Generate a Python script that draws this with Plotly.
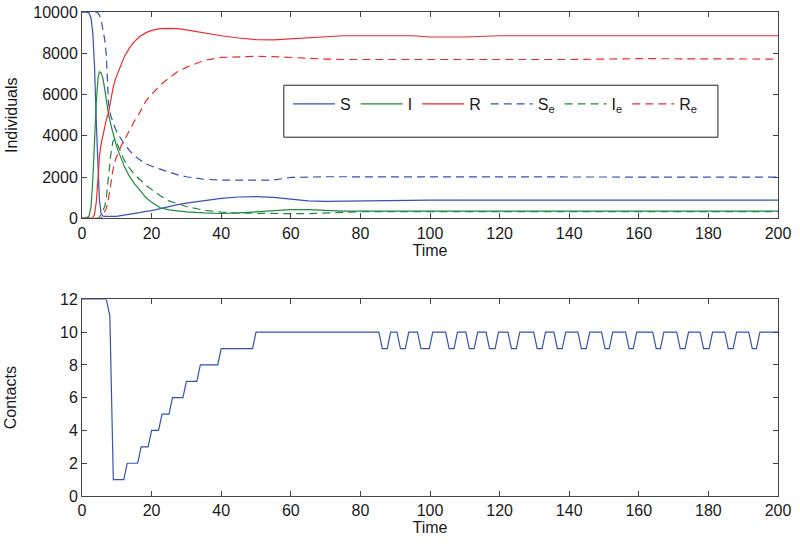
import plotly.graph_objects as go

# ---------------- data ----------------
time = [0, 1, 2, 2.6, 3.1, 3.6, 4.1, 4.6, 5.0, 5.5,
        6.0, 6.5, 7.0, 7.6, 8.2, 8.9, 9.6, 10.3, 11.2, 12.2,
        13.6, 15, 16.5, 18.4, 20, 22.5, 25, 27.5, 30, 35,
        40, 45, 50, 55, 60, 65, 70, 75, 80, 90,
        95, 100, 110, 120, 140, 160, 180, 200]

S = [10000, 10000, 9950, 9700, 8980, 7360, 4700, 2510, 890, 240,
     120, 105, 100, 100, 100, 100, 105, 110, 130, 160,
     200, 240, 280, 340, 380, 480, 580, 670, 740, 860,
     970, 1040, 1060, 1020, 930, 850, 830, 840, 880, 890,
     890, 890, 890, 890, 890, 890, 890, 890]

I = [0, 5, 110, 570, 1860, 3800, 5600, 6800, 7100, 7050,
     6800, 6300, 5700, 5050, 4600, 4100, 3700, 3320, 2900, 2500,
     2050, 1700, 1400, 1000, 780, 520, 420, 360, 320, 270,
     240, 270, 330, 400, 430, 430, 380, 360, 360, 360,
     360, 360, 360, 360, 360, 360, 360, 360]

R = [0, 0, 0, 5, 30, 200, 800, 1900, 3000, 3600,
     4050, 4500, 4800, 5100, 5700, 6300, 6750, 7040, 7450, 7850,
     8250, 8550, 8800, 9000, 9110, 9190, 9210, 9190, 9130, 8980,
     8850, 8740, 8660, 8650, 8700, 8780, 8830, 8850, 8850, 8850,
     8850, 8790, 8790, 8850, 8850, 8850, 8850, 8850]

S_e = [10000, 10000, 10000, 10000, 10000, 10000, 10000, 9950, 9850, 9600,
       9200, 8700, 7900, 5600, 5000, 4650, 4350, 4100, 3850, 3600,
       3300, 3050, 2850, 2650, 2530, 2380, 2230, 2110, 2020, 1900,
       1860, 1850, 1850, 1860, 1990, 2020, 2020, 2020, 2020, 2020,
       2020, 2020, 2020, 2020, 2020, 2020, 2020, 2000]

I_e = [0, 0, 0, 0, 0, 0, 0, 0, 50, 200,
       350, 570, 1000, 2000, 3000, 3750, 3850, 3550, 3150, 2800,
       2450, 2150, 1900, 1600, 1400, 1100, 850, 700, 580, 400,
       310, 260, 240, 235, 235, 235, 260, 320, 330, 330,
       330, 330, 330, 330, 330, 330, 330, 330]

R_e = [0, 0, 0, 0, 0, 0, 0, 0, 0, 0,
       160, 320, 500, 950, 1600, 2350, 2850, 3150, 3500, 3800,
       4250, 4700, 5100, 5700, 6000, 6470, 6800, 7120, 7320, 7650,
       7800, 7840, 7850, 7840, 7790, 7760, 7720, 7700, 7700, 7700,
       7700, 7700, 7700, 7700, 7700, 7740, 7740, 7720]

# contacts: ramp-up breakpoints, then periodic dips from 10 down to 9
contact_t = [0, 7, 8, 9, 12, 13, 16, 17, 19, 20, 22, 23, 25, 26, 29, 30, 33, 34, 39, 40, 49, 50]
contact_v = [12, 12, 11, 1, 1, 2, 2, 3, 3, 4, 4, 5, 5, 6, 6, 7, 7, 8, 8, 9, 9, 10]
dip_center = [87.0, 92.2, 98.6, 106.2, 112.0, 117.9, 124.1, 131.5, 137.3,
              144.2, 150.9, 157.8, 165.6, 172.6, 179.4, 186.4, 193.2]
dip_bottom = [1.4, 1.4, 2.4, 1.4, 1.4, 1.6, 1.4, 1.4, 1.4,
              1.4, 1.2, 1.2, 1.2, 1.4, 1.6, 1.4, 1.2]
contact_high = 10
contact_low = 9
t_end = 200

x_ticks = list(range(0, 201, 20))
y1_ticks = list(range(0, 10001, 2000))
y2_ticks = list(range(0, 13, 2))

# ---------------- build contacts polyline ----------------
ct = list(contact_t)
cv = list(contact_v)
for c, w in zip(dip_center, dip_bottom):
    ct += [c - w / 2 - 1.0, c - w / 2, c + w / 2, c + w / 2 + 1.0]
    cv += [contact_high, contact_low, contact_low, contact_high]
ct.append(t_end)
cv.append(contact_high)

# ---------------- figure ----------------
BLUE = "#3552b5"
GREEN = "#1f8a3c"
RED = "#ee2b2b"
DASH = "8px,5px"
LW = 1.2

fig = go.Figure()
series = [
    ("S", S, BLUE, "solid"),
    ("I", I, GREEN, "solid"),
    ("R", R, RED, "solid"),
    ("S<sub>e</sub>", S_e, BLUE, DASH),
    ("I<sub>e</sub>", I_e, GREEN, DASH),
    ("R<sub>e</sub>", R_e, RED, DASH),
]
for name, vals, col, dash in series:
    fig.add_trace(go.Scatter(x=time, y=vals, mode="lines", name=name,
                             line=dict(color=col, width=LW, dash=dash),
                             xaxis="x", yaxis="y"))

fig.add_trace(go.Scatter(x=ct, y=cv, mode="lines", name="Contacts",
                         line=dict(color=BLUE, width=LW), showlegend=False,
                         xaxis="x2", yaxis="y2"))

AX = dict(showline=True, linecolor="#444", linewidth=1, mirror="ticks",
          ticks="inside", ticklen=5, tickcolor="#444", showgrid=False,
          zeroline=False, automargin=False, tickfont=dict(size=16, color="#1a1a1a"))

top_dom = [0.5734, 1.0]
bot_dom = [0.0, 0.4062]

fig.update_layout(
    template="none",
    width=800, height=546,
    margin=dict(l=82, r=22, t=12, b=50, pad=0),
    plot_bgcolor="white", paper_bgcolor="white",
    font=dict(family="Liberation Sans, Arial, sans-serif", size=16, color="#1a1a1a"),
    xaxis=dict(AX, domain=[0, 1], anchor="y", range=[0, 200], tickvals=x_ticks,
               title=dict(text="Time", standoff=2, font=dict(size=16))),
    yaxis=dict(AX, domain=top_dom, anchor="x", range=[0, 10000], tickvals=y1_ticks,
               tickformat="d",
               title=dict(text="Individuals", standoff=11, font=dict(size=16))),
    xaxis2=dict(AX, domain=[0, 1], anchor="y2", range=[0, 200], tickvals=x_ticks,
                title=dict(text="Time", standoff=2, font=dict(size=16))),
    yaxis2=dict(AX, domain=bot_dom, anchor="x2", range=[0, 12], tickvals=y2_ticks,
                title=dict(text="Contacts", standoff=39, font=dict(size=16))),
    showlegend=True,
    legend=dict(orientation="h", x=0.296, y=0.81, xanchor="left", yanchor="middle",
                bgcolor="rgba(0,0,0,0)", borderwidth=0, itemwidth=42,
                font=dict(size=16), tracegroupgap=0),
    shapes=[dict(type="rect", xref="paper", yref="paper",
                 x0=0.29, x1=0.9137, y0=0.7413, y1=0.8487,
                 line=dict(color="#222", width=1), fillcolor="white", layer="below")],
)

fig.write_html("out.html", post_script="document.body.style.margin='0';",
               config={"displayModeBar": False})
